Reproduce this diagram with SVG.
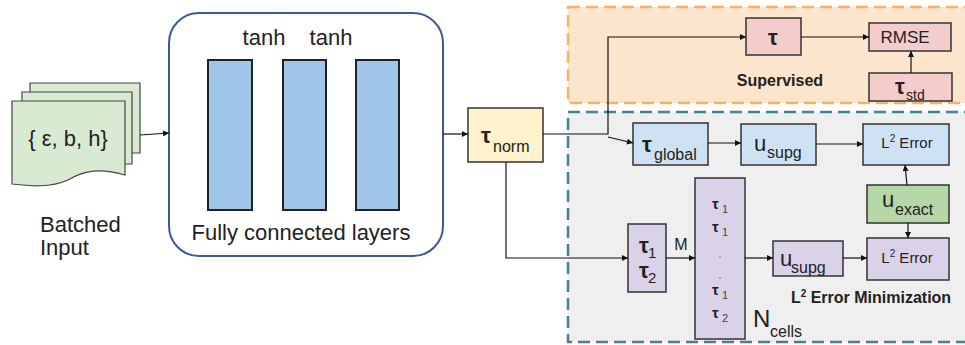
<svg xmlns="http://www.w3.org/2000/svg" width="965" height="345" viewBox="0 0 965 345">
  <style>
    text { font-family: "Liberation Sans", Arial, sans-serif; fill: #222; }
    .lbl { font-size: 22px; }
    .big { font-size: 22px; }
    .sub { font-size: 16px; }
    .tau { font-weight: bold; font-size: 22px; }
    .bold { font-weight: bold; }
    .box { stroke: #333; stroke-width: 1.5; }
    .pink { fill: #f4cccc; }
    .blue { fill: #cfe2f3; }
    .green { fill: #b6d7a8; }
    .purple { fill: #d9d2e9; }
    .yellow { fill: #fff2cc; }
    .bar { fill: #9fc5e8; stroke: #222; stroke-width: 2; }
    .doc { fill: #d9ead3; stroke: #444; stroke-width: 1.2; }
    .conn { fill: none; stroke: #111; stroke-width: 1.2; }
    .cellsub { font-size: 11px; fill: #444; }
  </style>
  <defs>
    <marker id="arrow" viewBox="0 0 10 10" refX="10" refY="5" markerWidth="7" markerHeight="6" orient="auto" markerUnits="userSpaceOnUse">
      <path d="M0,0 L10,5 L0,10 z" fill="#111"/>
    </marker>
  </defs>

  <!-- region backgrounds -->
  <g id="supervised-region">
    <rect x="568" y="7" width="400" height="96" fill="#fce5cd" stroke="#f6b26b" stroke-width="2.5" stroke-dasharray="12 6"/>
    <text x="780" y="86" class="bold" font-size="16" text-anchor="middle">Supervised</text>
  </g>
  <g id="error-region">
    <rect x="568" y="112" width="400" height="230" fill="#efefef" stroke="#45818e" stroke-width="2.5" stroke-dasharray="12 6"/>
    <text x="871" y="303" class="bold" font-size="16" text-anchor="middle">L<tspan font-size="10" dy="-6">2</tspan><tspan dy="6"> Error Minimization</tspan></text>
  </g>

  <!-- batched input stack -->
  <g id="batched-input">
    <path class="doc" d="M30,83 H140 V153 H30 Z"/>
    <path class="doc" d="M22,92 H132 V164 H22 Z"/>
    <path class="doc" d="M12,101 H125 V175 C100,168 85,170 68,180 C50,188 30,186 12,184 Z"/>
    <text x="68" y="146" class="lbl" text-anchor="middle">{ ε, b, h}</text>
    <text x="40" y="232" font-size="22">Batched</text>
    <text x="40" y="255" font-size="22">Input</text>
  </g>

  <!-- fully connected network -->
  <g id="fc-layers">
    <rect x="169" y="13" width="274" height="243" rx="30" fill="#fff" stroke="#3c5a9a" stroke-width="2"/>
    <rect class="bar" x="208" y="60" width="44" height="150"/>
    <rect class="bar" x="283" y="60" width="43" height="150"/>
    <rect class="bar" x="356" y="60" width="43" height="150"/>
    <text x="264" y="45" class="lbl" text-anchor="middle">tanh</text>
    <text x="331" y="45" class="lbl" text-anchor="middle">tanh</text>
    <text x="301" y="240" font-size="22" text-anchor="middle">Fully connected layers</text>
  </g>

  <g id="tau-norm">
    <rect class="box yellow" x="468" y="108" width="75" height="54"/>
    <text x="481" y="143" class="tau">τ</text>
    <text x="493" y="152" class="sub">norm</text>
  </g>

  <!-- supervised branch -->
  <g id="tau">
    <rect class="box pink" x="746" y="18" width="55" height="37"/>
    <text x="773" y="45" class="tau" font-size="25" text-anchor="middle">τ</text>
  </g>
  <g id="rmse">
    <rect class="box pink" x="869" y="23" width="82" height="28"/>
    <text x="905" y="43" font-size="17" text-anchor="middle">RMSE</text>
  </g>
  <g id="tau-std">
    <rect class="box pink" x="869" y="73" width="83" height="28"/>
    <text x="895" y="94" class="tau" font-size="20">τ</text>
    <text x="906" y="100" font-size="14">std</text>
  </g>

  <!-- global tau branch -->
  <g id="tau-global">
    <rect class="box blue" x="633" y="123" width="75" height="42"/>
    <text x="642" y="152" class="tau">τ</text>
    <text x="654" y="160" class="sub">global</text>
  </g>
  <g id="u-supg-global">
    <rect class="box blue" x="741" y="124" width="75" height="41"/>
    <text x="754" y="151" class="big">u</text>
    <text x="767" y="158" class="sub">supg</text>
  </g>
  <g id="l2-error-global">
    <rect class="box blue" x="863" y="124" width="86" height="41"/>
    <text x="907" y="148" font-size="15" text-anchor="middle">L<tspan font-size="10" dy="-6">2</tspan><tspan dy="6"> Error</tspan></text>
  </g>
  <g id="u-exact">
    <rect class="box green" x="867" y="185" width="82" height="38"/>
    <text x="882" y="207" class="big">u</text>
    <text x="895" y="215" class="sub">exact</text>
  </g>

  <!-- per-cell tau branch -->
  <g id="tau-pair">
    <rect class="box purple" x="628" y="224" width="38" height="68"/>
    <text x="639" y="253" class="tau" font-size="18">τ</text>
    <text x="648" y="258" font-size="15">1</text>
    <text x="639" y="278" class="tau" font-size="18">τ</text>
    <text x="648" y="283" font-size="15">2</text>
  </g>
  <g id="tau-cells">
    <rect class="box purple" x="695" y="178" width="50" height="161"/>
    <g class="bold" font-size="15">
      <text x="712" y="209">τ</text>
      <text x="712" y="232">τ</text>
      <text x="712" y="295">τ</text>
      <text x="712" y="318">τ</text>
    </g>
    <text x="722" y="213" class="cellsub">1</text>
    <text x="722" y="236" class="cellsub">1</text>
    <text x="722" y="299" class="cellsub">1</text>
    <text x="722" y="322" class="cellsub">2</text>
    <circle cx="720" cy="257" r="0.8" fill="#666"/>
    <circle cx="720" cy="278" r="0.8" fill="#666"/>
    <text x="753" y="327" font-size="24">N</text>
    <text x="770" y="337" class="sub">cells</text>
  </g>
  <g id="u-supg-cells">
    <rect class="box purple" x="773" y="241" width="70" height="35"/>
    <text x="780" y="266" class="big">u</text>
    <text x="791" y="273" class="sub">supg</text>
  </g>
  <g id="l2-error-cells">
    <rect class="box purple" x="867" y="238" width="82" height="42"/>
    <text x="907" y="263" font-size="15" text-anchor="middle">L<tspan font-size="10" dy="-6">2</tspan><tspan dy="6"> Error</tspan></text>
  </g>

  <!-- connectors -->
  <g id="connectors">
    <path class="conn" d="M140,135 L169,133" marker-end="url(#arrow)"/>
    <path class="conn" d="M443,134 L468,134" marker-end="url(#arrow)"/>
    <path class="conn" d="M543,134 H608 V37 H746" marker-end="url(#arrow)"/>
    <path class="conn" d="M608,137 L633,143" marker-end="url(#arrow)"/>
    <path class="conn" d="M801,37 H869" marker-end="url(#arrow)"/>
    <path class="conn" d="M911,73 V51" marker-end="url(#arrow)"/>
    <path class="conn" d="M708,143 H741" marker-end="url(#arrow)"/>
    <path class="conn" d="M816,144 H863" marker-end="url(#arrow)"/>
    <path class="conn" d="M907,185 L905,165" marker-end="url(#arrow)"/>
    <path class="conn" d="M908,223 V238" marker-end="url(#arrow)"/>
    <path class="conn" d="M506,162 V258 H628" marker-end="url(#arrow)"/>
    <path class="conn" d="M666,258 H695" marker-end="url(#arrow)"/>
    <text x="681" y="250" font-family="Liberation Serif, serif" font-size="16" text-anchor="middle">M</text>
    <path class="conn" d="M745,258 H773" marker-end="url(#arrow)"/>
    <path class="conn" d="M843,258 H867" marker-end="url(#arrow)"/>
  </g>
</svg>
